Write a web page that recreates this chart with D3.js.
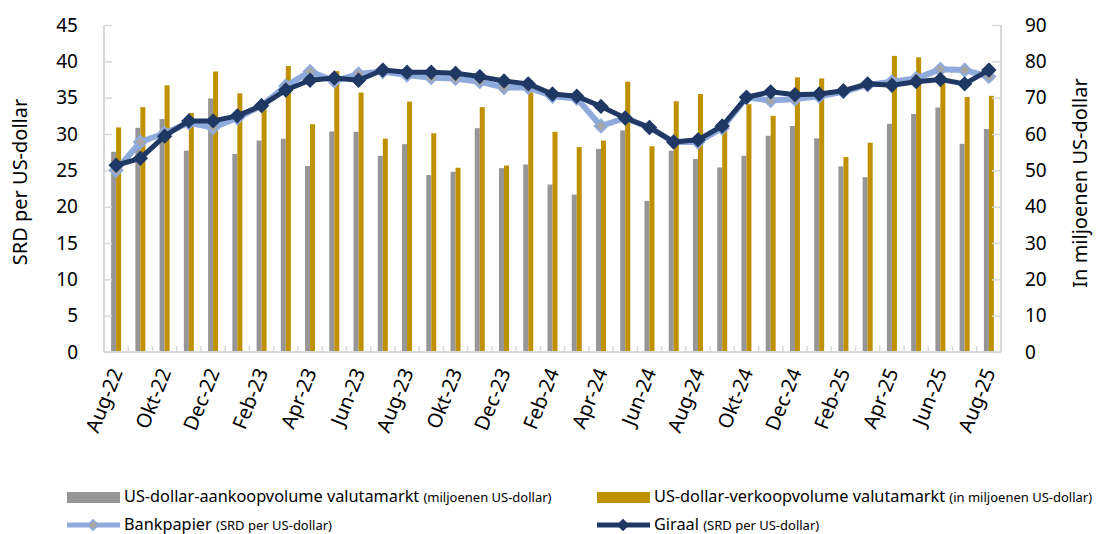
<!DOCTYPE html>
<html>
<head>
<meta charset="utf-8">
<script src="https://cdn.jsdelivr.net/npm/d3@7"></script>
<style>
  body { margin: 0; background: #fff; }
  svg { display: block; font-family: "Noto Sans", sans-serif; }
</style>
</head>
<body>
<div id="chart"></div>
<script>
// maanden (categorieen)
const months = ["Aug-22","Sep-22","Okt-22","Nov-22","Dec-22","Jan-23","Feb-23","Mrt-23","Apr-23","Mei-23",
  "Jun-23","Jul-23","Aug-23","Sep-23","Okt-23","Nov-23","Dec-23","Jan-24","Feb-24","Mrt-24",
  "Apr-24","Mei-24","Jun-24","Jul-24","Aug-24","Sep-24","Okt-24","Nov-24","Dec-24","Jan-25",
  "Feb-25","Mrt-25","Apr-25","Mei-25","Jun-25","Jul-25","Aug-25"];

// volumes in miljoenen US-dollar (rechter as)
const aankoop = [55.1,61.7,64.1,55.4,69.8,54.5,58.2,58.7,51.2,60.7,60.6,54.0,57.2,48.7,49.6,61.6,50.6,51.6,46.1,43.3,
  55.9,61.0,41.6,55.4,53.1,50.8,54.0,59.5,62.2,58.8,51.1,48.1,62.8,65.5,67.3,57.3,61.4];
const verkoop = [61.8,67.4,73.4,65.8,77.2,71.2,68.0,78.7,62.7,77.3,71.4,58.7,68.9,60.2,50.7,67.4,51.3,71.5,60.6,56.4,
  58.2,74.4,56.6,69.0,71.0,62.0,68.2,65.0,75.6,75.3,53.7,57.6,81.5,81.1,76.0,70.2,70.5];

// koersen SRD per US-dollar (linker as)
const bankpapier = [25.0,28.9,30.1,31.55,30.9,32.2,33.9,36.6,38.6,37.3,38.25,38.6,38.1,37.75,37.65,37.2,36.4,36.4,35.2,34.9,
  31.1,32.2,30.9,28.9,28.9,30.8,35.05,34.6,34.8,35.2,35.8,36.75,37.2,37.65,38.9,38.8,37.9];
const giraal = [25.7,26.65,29.7,31.8,31.8,32.5,33.9,36.05,37.4,37.7,37.4,38.8,38.5,38.5,38.35,37.9,37.3,36.9,35.5,35.2,
  33.8,32.2,30.9,28.9,29.2,31.1,35.05,35.8,35.4,35.5,35.95,36.9,36.7,37.2,37.5,36.9,38.8];

const leftTicks = [0,5,10,15,20,25,30,35,40,45];
const rightTicks = [0,10,20,30,40,50,60,70,80,90];

const W = 1098, H = 534;
const plot = { left: 104, right: 1001, top: 25, bottom: 352 };

const svg = d3.select("#chart").append("svg")
  .attr("width", W).attr("height", H);

let x = d3.scaleBand()
  .domain(months)
  .range([plot.left, plot.right]);

let yL = d3.scaleLinear().domain([0, 45]).range([plot.bottom, plot.top]);
let yR = d3.scaleLinear().domain([0, 90]).range([plot.bottom, plot.top]);

const axisCol = "#d9d9d9";
const bw = 5;

// bars
let bars = svg.append("g");
bars.selectAll("rect.grey")
  .data(aankoop)
  .enter().append("rect")
  .attr("x", (d, i) => x(months[i]) + x.bandwidth() / 2 - bw)
  .attr("y", d => yR(d))
  .attr("width", bw)
  .attr("height", d => yR(0) - yR(d))
  .attr("fill", "#969696");
bars.selectAll("rect.gold")
  .data(verkoop)
  .enter().append("rect")
  .attr("x", (d, i) => x(months[i]) + x.bandwidth() / 2)
  .attr("y", d => yR(d))
  .attr("width", bw)
  .attr("height", d => yR(0) - yR(d))
  .attr("fill", "#bf9000");

// axes
let leftAxis = svg.append("g")
  .attr("transform", "translate(" + plot.left + ",0)")
  .call(d3.axisLeft(yL).tickValues(leftTicks).tickSize(-8).tickPadding(26));
let rightAxis = svg.append("g")
  .attr("transform", "translate(" + plot.right + ",0)")
  .call(d3.axisRight(yR).tickValues(rightTicks).tickSize(-9).tickPadding(24));
let bottomAxis = svg.append("g")
  .attr("transform", "translate(0," + plot.bottom + ")")
  .call(d3.axisBottom(x).tickValues(months.filter((m, i) => i % 2 === 0)).tickSize(0));

[leftAxis, rightAxis, bottomAxis].forEach(a => {
  a.select(".domain").attr("stroke", axisCol).attr("stroke-width", 2);
  a.selectAll(".tick line").attr("stroke", axisCol).attr("stroke-width", 1.5);
  a.selectAll("text").attr("fill", "#000").style("font-size", "19px")
    .style("font-family", "'Noto Sans', sans-serif");
});
leftAxis.select(".domain").attr("d", "M0," + plot.bottom + "V" + plot.top);
rightAxis.select(".domain").attr("d", "M0," + plot.bottom + "V" + plot.top);
bottomAxis.select(".domain").attr("d", "M" + plot.left + ",0H" + plot.right);

// rotated month labels, end of text just right of the category centre
bottomAxis.selectAll("text")
  .style("font-size", "20px")
  .attr("text-anchor", "end")
  .attr("x", 0).attr("y", 0).attr("dy", 0)
  .attr("transform", "translate(7,20) rotate(-68)");

// small category-boundary ticks on the x axis
svg.append("g").selectAll("line")
  .data(d3.range(1, months.length))
  .enter().append("line")
  .attr("x1", i => x(months[i])).attr("x2", i => x(months[i]))
  .attr("y1", plot.bottom - 6).attr("y2", plot.bottom)
  .attr("stroke", axisCol).attr("stroke-width", 1.5);

// lines
const cx = (d, i) => x(months[i]) + x.bandwidth() / 2;
const diamond = d3.symbol().type(d3.symbolDiamond2).size(100);

function drawLine(vals, col, w, markFill, markStroke) {
  let g = svg.append("g");
  g.append("path")
    .datum(vals)
    .attr("fill", "none")
    .attr("stroke", col)
    .attr("stroke-width", w)
    .attr("stroke-linejoin", "round")
    .attr("d", d3.line().x(cx).y(d => yL(d)));
  g.selectAll("path.m")
    .data(vals)
    .enter().append("path")
    .attr("d", diamond)
    .attr("transform", (d, i) => "translate(" + cx(d, i) + "," + yL(d) + ")")
    .attr("fill", markFill)
    .attr("stroke", markStroke)
    .attr("stroke-width", 2);
}
drawLine(bankpapier, "#8faadc", 6, "#a6a6a6", "#8faadc");
drawLine(giraal, "#1f3864", 5, "#1f3864", "#1f3864");

// axis titles
svg.append("text")
  .attr("transform", "translate(27,182) rotate(-90)")
  .attr("text-anchor", "middle")
  .style("font-size", "20px")
  .text("SRD per US-dollar");
svg.append("text")
  .attr("transform", "translate(1087,183) rotate(-90)")
  .attr("text-anchor", "middle")
  .style("font-size", "20px")
  .text("In miljoenen US-dollar");

// legend
const legend = [
  { x: 67, y: 497, type: "bar", col: "#969696", main: "US-dollar-aankoopvolume valutamarkt", sub: "(miljoenen US-dollar)" },
  { x: 597, y: 497, type: "bar", col: "#bf9000", main: "US-dollar-verkoopvolume valutamarkt", sub: "(in miljoenen US-dollar)" },
  { x: 67, y: 525, type: "line", col: "#8faadc", fill: "#a6a6a6", main: "Bankpapier", sub: "(SRD per US-dollar)" },
  { x: 597, y: 525, type: "line", col: "#1f3864", fill: "#1f3864", main: "Giraal", sub: "(SRD per US-dollar)" }
];
let lg = svg.append("g").selectAll("g").data(legend).enter().append("g");
lg.each(function (d) {
  let g = d3.select(this);
  if (d.type === "bar") {
    g.append("rect").attr("x", d.x).attr("y", d.y - 5).attr("width", 53).attr("height", 11).attr("fill", d.col);
  } else {
    g.append("line").attr("x1", d.x).attr("x2", d.x + 53).attr("y1", d.y).attr("y2", d.y)
      .attr("stroke", d.col).attr("stroke-width", 5);
    g.append("path").attr("d", d3.symbol().type(d3.symbolDiamond2).size(70)())
      .attr("transform", "translate(" + (d.x + 26) + "," + d.y + ")")
      .attr("fill", d.fill).attr("stroke", d.col).attr("stroke-width", 1.5);
  }
  let t = g.append("text").attr("x", d.x + 57).attr("y", d.y + 5).style("font-size", "16.3px");
  t.append("tspan").text(d.main + " ");
  t.append("tspan").style("font-size", "13px").text(d.sub);
});
</script>
</body>
</html>
